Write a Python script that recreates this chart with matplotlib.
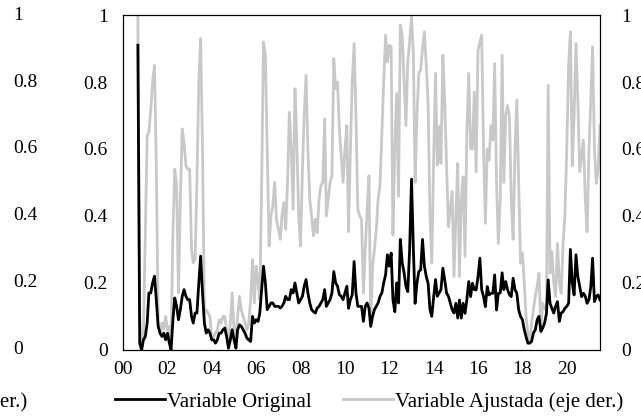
import numpy as np
import pandas as pd
import matplotlib
matplotlib.use("Agg")
import matplotlib.pyplot as plt
import matplotlib.dates as mdates
import matplotlib.transforms as mtrans

plt.rcParams["font.family"] = ["Liberation Serif", "DejaVu Serif"]
plt.rcParams["font.size"] = 14

# monthly data, Sep 2000 .. Jul 2021
fechas = pd.date_range("2000-09-01", "2021-07-01", freq="MS")

# Variable Original (left axis)
original = [
    0.91, 0.02, 0.00, 0.03,
    0.04, 0.08, 0.17, 0.17, 0.20, 0.22, 0.15, 0.07, 0.05, 0.04, 0.05, 0.03,
    0.05, 0.02, 0.00, 0.09, 0.155, 0.13, 0.09, 0.12, 0.16, 0.18, 0.16, 0.15,
    0.15, 0.10, 0.08, 0.11, 0.11, 0.20, 0.28, 0.17, 0.08, 0.05, 0.06, 0.05,
    0.03, 0.03, 0.02, 0.03, 0.05, 0.05, 0.06, 0.065, 0.04, 0.005, 0.03, 0.06,
    0.03, 0.005, 0.06, 0.075, 0.07, 0.06, 0.05, 0.035, 0.03, 0.025, 0.10, 0.08,
    0.09, 0.085, 0.11, 0.18, 0.25, 0.20, 0.12, 0.13, 0.14, 0.14, 0.13, 0.13,
    0.13, 0.125, 0.13, 0.14, 0.16, 0.15, 0.15, 0.18, 0.17, 0.20, 0.17, 0.14,
    0.15, 0.16, 0.19, 0.21, 0.17, 0.14, 0.12, 0.114, 0.11, 0.125, 0.13, 0.14,
    0.15, 0.18, 0.13, 0.14, 0.15, 0.17, 0.234, 0.20, 0.19, 0.165, 0.16, 0.15,
    0.17, 0.19, 0.124, 0.15, 0.165, 0.264, 0.17, 0.13, 0.13, 0.13, 0.085, 0.13,
    0.14, 0.124, 0.07, 0.10, 0.12, 0.13, 0.14, 0.16, 0.17, 0.20, 0.224, 0.284,
    0.25, 0.289, 0.15, 0.114, 0.20, 0.14, 0.33, 0.26, 0.23, 0.19, 0.174, 0.30,
    0.51, 0.30, 0.139, 0.20, 0.234, 0.239, 0.33, 0.25, 0.219, 0.199, 0.12, 0.10,
    0.159, 0.21, 0.16, 0.17, 0.18, 0.244, 0.21, 0.17, 0.16, 0.14, 0.12, 0.11,
    0.139, 0.095, 0.149, 0.095, 0.139, 0.109, 0.15, 0.204, 0.159, 0.199, 0.18, 0.179,
    0.219, 0.274, 0.18, 0.159, 0.129, 0.189, 0.164, 0.169, 0.169, 0.224, 0.119, 0.169,
    0.17, 0.23, 0.18, 0.204, 0.18, 0.165, 0.159, 0.214, 0.18, 0.169, 0.119, 0.10,
    0.09, 0.06, 0.04, 0.02, 0.02, 0.025, 0.05, 0.06, 0.09, 0.10, 0.055, 0.065,
    0.08, 0.109, 0.209, 0.139, 0.124, 0.11, 0.13, 0.144, 0.085, 0.11, 0.114, 0.124,
    0.13, 0.139, 0.30, 0.20, 0.164, 0.284, 0.22, 0.189, 0.159, 0.169, 0.16, 0.139,
    0.15, 0.19, 0.274, 0.144, 0.16, 0.164, 0.149,
]

# Variable Ajustada (right axis)
ajustada = [
    1.00, 0.10, 0.00, 0.05,
    0.35, 0.64, 0.65, 0.72, 0.80, 0.85, 0.55, 0.08, 0.05, 0.08, 0.06, 0.10,
    0.06, 0.07, 0.02, 0.35, 0.54, 0.49, 0.17, 0.45, 0.66, 0.62, 0.55, 0.54,
    0.54, 0.30, 0.26, 0.27, 0.50, 0.80, 0.93, 0.60, 0.11, 0.12, 0.11, 0.10,
    0.03, 0.04, 0.05, 0.06, 0.09, 0.08, 0.10, 0.10, 0.06, 0.02, 0.08, 0.17,
    0.06, 0.03, 0.10, 0.16, 0.12, 0.10, 0.08, 0.06, 0.08, 0.15, 0.27, 0.14,
    0.25, 0.20, 0.15, 0.50, 0.92, 0.88, 0.60, 0.31, 0.40, 0.43, 0.50, 0.39,
    0.36, 0.33, 0.40, 0.44, 0.36, 0.50, 0.71, 0.60, 0.42, 0.78, 0.62, 0.40,
    0.31, 0.54, 0.70, 0.82, 0.60, 0.45, 0.40, 0.34, 0.39, 0.35, 0.45, 0.49,
    0.50, 0.69, 0.40, 0.45, 0.50, 0.52, 0.87, 0.78, 0.80, 0.66, 0.58, 0.50,
    0.60, 0.67, 0.353, 0.60, 0.80, 0.915, 0.70, 0.42, 0.40, 0.39, 0.17, 0.30,
    0.42, 0.52, 0.08, 0.25, 0.30, 0.36, 0.45, 0.49, 0.65, 0.80, 0.94, 0.86,
    0.91, 0.905, 0.343, 0.60, 0.766, 0.458, 0.97, 0.94, 0.80, 0.67, 0.86, 0.92,
    0.995, 0.885, 0.50, 0.70, 0.826, 0.836, 0.90, 0.95, 0.85, 0.736, 0.40, 0.26,
    0.577, 0.826, 0.552, 0.667, 0.557, 0.88, 0.746, 0.55, 0.368, 0.42, 0.473, 0.219,
    0.40, 0.557, 0.219, 0.45, 0.517, 0.279, 0.65, 0.826, 0.60, 0.60, 0.77, 0.532,
    0.895, 0.92, 0.94, 0.60, 0.378, 0.60, 0.567, 0.67, 0.627, 0.855, 0.497, 0.318,
    0.45, 0.88, 0.50, 0.70, 0.73, 0.696, 0.45, 0.33, 0.60, 0.746, 0.497, 0.259,
    0.29, 0.20, 0.10, 0.05, 0.02, 0.08, 0.119, 0.16, 0.19, 0.229, 0.06, 0.139,
    0.125, 0.119, 0.79, 0.229, 0.293, 0.20, 0.159, 0.318, 0.20, 0.169, 0.318, 0.40,
    0.60, 0.85, 0.95, 0.55, 0.70, 0.915, 0.75, 0.532, 0.58, 0.627, 0.45, 0.353,
    0.60, 0.75, 0.905, 0.60, 0.497, 0.537, 0.67,
]

yticks = [0, 0.2, 0.4, 0.6, 0.8, 1]
ytick_labels = ["0", "0.2", "0.4", "0.6", "0.8", "1"]
xtick_years = list(range(2000, 2021, 2))

fig = plt.figure(figsize=(6.41, 4.19), dpi=100)
ax = fig.add_axes([0.192, 0.165, 0.744, 0.799])
ax2 = ax.twinx()

l2, = ax2.plot(fechas, ajustada, color="#c8c8c8", lw=2.0,
               label="Variable Ajustada (eje der.)")
l1, = ax.plot(fechas, original, color="black", lw=2.0,
              label="Variable Original")
ax.set_zorder(ax2.get_zorder() + 1)
ax.patch.set_visible(False)

for a in (ax, ax2):
    a.set_ylim(0, 1)
    a.set_yticks(yticks)
    a.set_yticklabels(ytick_labels)
    for s in a.spines.values():
        s.set_linewidth(0.8)
ax.tick_params(axis="y", length=0, pad=11)
ax2.tick_params(axis="y", length=0, pad=15)
for lab in ax2.get_yticklabels():
    lab.set_horizontalalignment("left")

ax.set_xlim(pd.Timestamp("2000-01-01"), pd.Timestamp("2021-07-01"))
ax.set_xticks([pd.Timestamp(f"{y}-01-01") for y in xtick_years])
ax.xaxis.set_major_formatter(mdates.DateFormatter("%y"))
ax.tick_params(axis="x", length=0, pad=8)

leg = ax.legend(handles=[l1, l2], loc="center",
                bbox_to_anchor=(0.516, -0.155), ncol=2, frameon=False,
                fontsize=15, handlelength=2.4, columnspacing=1.5,
                handletextpad=0.1, borderaxespad=0, borderpad=0)

# pieces of the neighbouring panel cut by the crop
tr = mtrans.blended_transform_factory(fig.transFigure, ax.transData)
for v, s in zip(yticks, ytick_labels):
    fig.text(13 / 641, v, s, transform=tr, ha="left", va="center")
fig.text(27 / 641, 1 - 402 / 419, "Variable Ajustada (eje der.)",
         ha="right", va="center", fontsize=15)

fig.savefig("out.png", dpi=100)
